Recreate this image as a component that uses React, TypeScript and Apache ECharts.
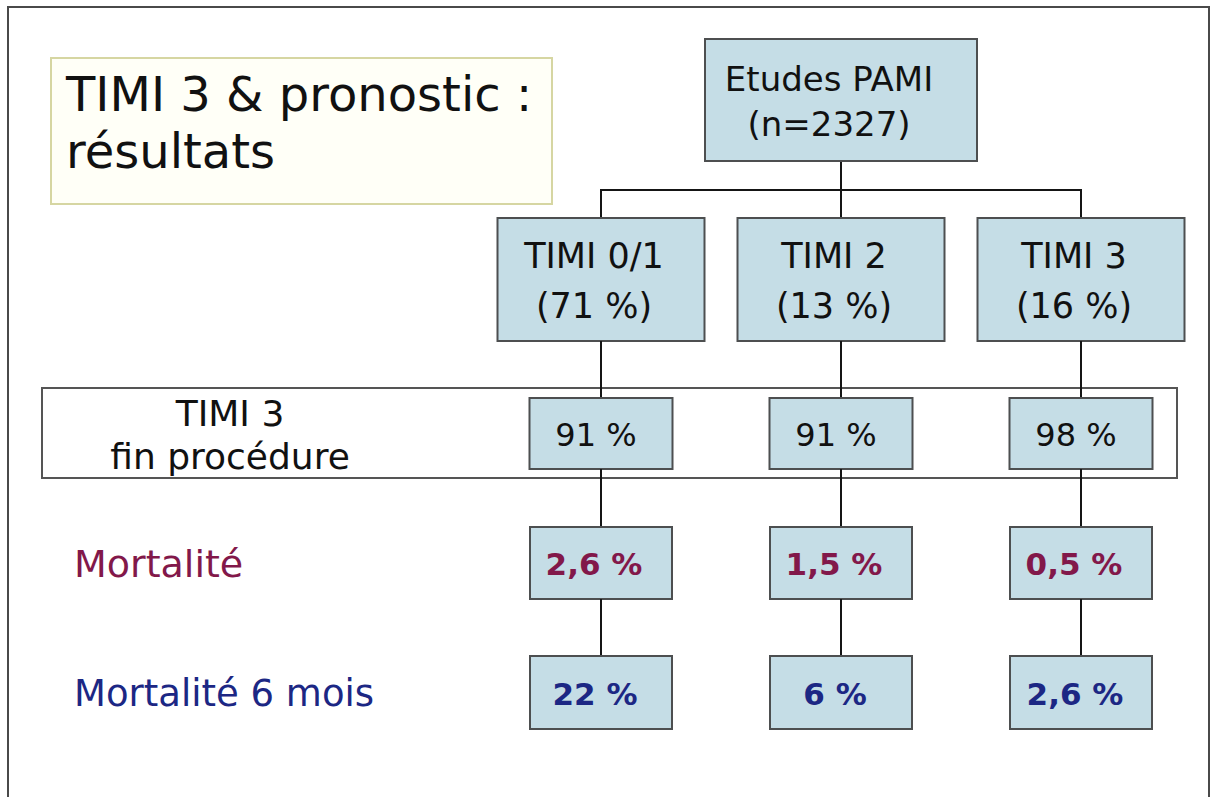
import React, { useEffect, useRef } from "react";
import * as echarts from "echarts";

// ---- data ----
const studyName = "Etudes PAMI";
const studySize = 2327;
const groups = ["TIMI 0/1", "TIMI 2", "TIMI 3"];
const groupShares = ["71 %", "13 %", "16 %"];
const timi3EndProcedure = ["91 %", "91 %", "98 %"];
const mortality = ["2,6 %", "1,5 %", "0,5 %"];
const mortality6Months = ["22 %", "6 %", "2,6 %"];
const titleLines = ["TIMI 3 & pronostic :", "résultats"];
const rowLabels = ["TIMI 3\nfin procédure", "Mortalité", "Mortalité 6 mois"];

// ---- layout / style ----
const FONT = "'DejaVu Sans', sans-serif";
const BOX_FILL = "#c5dde6";
const BOX_STROKE = "#4d4f50";
const LINE = "#151515";
const MAROON = "#82184a";
const NAVY = "#1c2784";
const BAR_Y = 190;
const ROWS = [
  { top: 39, height: 122, width: 272, size: 34, lh: 45, dx: -12, color: "#111", weight: "normal" },
  { top: 218, height: 123, width: 207, size: 35, lh: 50, dx: -7, color: "#111", weight: "normal" },
  { top: 398, height: 71, width: 143, size: 32, lh: 36, dx: -5, color: "#111", weight: "normal" },
  { top: 527, height: 72, width: 142, size: 31, lh: 36, dx: -7, color: MAROON, weight: "bold" },
  { top: 656, height: 73, width: 142, size: 31, lh: 36, dx: -6, color: NAVY, weight: "bold" },
];

type Node = { col: number; row: number; text: string };
const nodes: Node[] = [
  { col: 1, row: 0, text: `${studyName}\n(n=${studySize})` },
  ...groups.map((g, i) => ({ col: i, row: 1, text: `${g}\n(${groupShares[i]})` })),
  ...timi3EndProcedure.map((v, i) => ({ col: i, row: 2, text: v })),
  ...mortality.map((v, i) => ({ col: i, row: 3, text: v })),
  ...mortality6Months.map((v, i) => ({ col: i, row: 4, text: v })),
];

function renderItem(params: any, api: any) {
  const node = nodes[params.dataIndex];
  const L = ROWS[node.row];
  const [cx, top] = api.coord([node.col, L.top]);
  const bottom = api.coord([node.col, L.top + L.height])[1];
  const children: any[] = [];
  const line = (x1: number, y1: number, x2: number, y2: number) => ({
    type: "line",
    shape: { x1, y1, x2, y2 },
    style: { stroke: LINE, lineWidth: 2 },
  });
  if (node.row === 0) {
    const barY = api.coord([0, BAR_Y])[1];
    const x0 = api.coord([0, BAR_Y])[0];
    const x2 = api.coord([groups.length - 1, BAR_Y])[0];
    children.push(line(cx, bottom, cx, barY));
    children.push(line(x0 - 1, barY, x2 + 1, barY));
  } else if (node.row === 1) {
    const barY = api.coord([0, BAR_Y])[1];
    children.push(line(cx, barY, cx, top));
  } else {
    const P = ROWS[node.row - 1];
    const pb = api.coord([node.col, P.top + P.height])[1];
    children.push(line(cx, pb, cx, top));
  }
  children.push({
    type: "rect",
    shape: { x: cx - L.width / 2, y: top, width: L.width, height: bottom - top },
    style: { fill: BOX_FILL, stroke: BOX_STROKE, lineWidth: 2 },
  });
  children.push({
    type: "text",
    x: cx + L.dx,
    y: (top + bottom) / 2 + 1,
    style: {
      text: node.text,
      fill: L.color,
      fontSize: L.size,
      fontFamily: FONT,
      fontWeight: L.weight,
      lineHeight: L.lh,
      align: "center",
      verticalAlign: "middle",
    },
  });
  return { type: "group", children };
}

export default function App() {
  const ref = useRef<HTMLDivElement>(null);
  useEffect(() => {
    document.body.style.margin = "0";
    const chart = echarts.init(ref.current!, null, { renderer: "svg" });
    chart.setOption({
      animation: false,
      backgroundColor: "#ffffff",
      grid: { left: 481, right: 10, top: 0, bottom: 0 },
      xAxis: {
        type: "category",
        data: groups,
        show: false,
      },
      yAxis: { type: "value", inverse: true, min: 0, max: 797, show: false },
      graphic: [
        {
          type: "rect",
          z: 0,
          shape: { x: 8, y: 7, width: 1201, height: 800 },
          style: { fill: "none", stroke: "#4a4a4a", lineWidth: 2 },
        },
        {
          type: "rect",
          z: 0,
          shape: { x: 51, y: 58, width: 501, height: 146 },
          style: { fill: "#fffff7", stroke: "#d6d6a2", lineWidth: 2 },
        },
        {
          type: "text",
          z: 1,
          x: 66,
          y: 94,
          style: {
            text: titleLines[0],
            fill: "#111",
            fontSize: 48,
            fontFamily: FONT,
            verticalAlign: "middle",
          },
        },
        {
          type: "text",
          z: 1,
          x: 66,
          y: 151,
          style: {
            text: titleLines[1],
            fill: "#111",
            fontSize: 48,
            fontFamily: FONT,
            verticalAlign: "middle",
          },
        },
        {
          type: "rect",
          z: 0,
          shape: { x: 42, y: 388, width: 1135, height: 90 },
          style: { fill: "none", stroke: "#555", lineWidth: 2 },
        },
        {
          type: "text",
          z: 1,
          x: 230,
          y: 435,
          style: {
            text: rowLabels[0],
            fill: "#111",
            fontSize: 36,
            lineHeight: 43,
            fontFamily: FONT,
            align: "center",
            verticalAlign: "middle",
          },
        },
        {
          type: "text",
          z: 1,
          x: 74,
          y: 564,
          style: {
            text: rowLabels[1],
            fill: MAROON,
            fontSize: 38,
            fontFamily: FONT,
            verticalAlign: "middle",
          },
        },
        {
          type: "text",
          z: 1,
          x: 74,
          y: 693,
          style: {
            text: rowLabels[2],
            fill: NAVY,
            fontSize: 37,
            fontFamily: FONT,
            verticalAlign: "middle",
          },
        },
      ],
      series: [
        {
          type: "custom",
          z: 5,
          coordinateSystem: "cartesian2d",
          renderItem,
          data: nodes.map((n) => [n.col, ROWS[n.row].top]),
          silent: true,
        },
      ],
    });
    return () => chart.dispose();
  }, []);
  return (
    <div
      ref={ref}
      style={{ position: "fixed", left: 0, top: 0, width: 1211, height: 797, background: "#fff" }}
    />
  );
}
